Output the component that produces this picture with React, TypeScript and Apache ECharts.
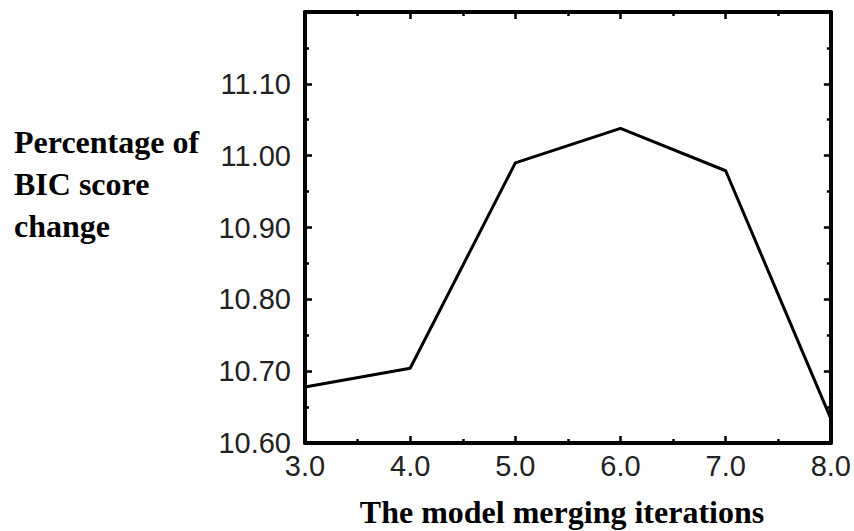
import React, { useEffect, useRef } from "react";
import * as echarts from "echarts";

const iterations: number[] = [3.0, 4.0, 5.0, 6.0, 7.0, 8.0];
const bicChange: number[] = [10.678, 10.704, 10.99, 11.038, 10.979, 10.634];
const yNameLines: string[] = ["Percentage of", "BIC score", "change"];
const xName = "The model merging iterations";

export default function App() {
  const ref = useRef<HTMLDivElement>(null);
  useEffect(() => {
    if (!ref.current) return;
    const chart = echarts.init(ref.current, null, { renderer: "svg" });
    const axisLine = { show: true, lineStyle: { color: "#000", width: 4 } };
    const axisTick = { show: true, inside: true, length: 7, lineStyle: { color: "#000", width: 2.5 } };
    const minorTick = { show: true, splitNumber: 2, length: 4, lineStyle: { color: "#000", width: 2.5 } };
    const labelStyle = { color: "#222", fontFamily: "Liberation Sans", fontSize: 29 };
    const nameFont = { fontFamily: "Liberation Serif", fontWeight: "bold", fontSize: 32, fill: "#000" };
    chart.setOption({
      animation: false,
      backgroundColor: "#fff",
      grid: { left: 305, right: 19, top: 12, bottom: 88, containLabel: false },
      xAxis: [
        {
          type: "value",
          position: "bottom",
          min: 3,
          max: 8,
          interval: 1,
          axisLine,
          axisTick,
          minorTick,
          splitLine: { show: false },
          axisLabel: { ...labelStyle, margin: 8, formatter: (v: number) => v.toFixed(1) },
        },
        {
          type: "value",
          position: "top",
          min: 3,
          max: 8,
          interval: 1,
          axisLine,
          axisTick,
          minorTick,
          splitLine: { show: false },
          axisLabel: { show: false },
        },
      ],
      yAxis: [
        {
          type: "value",
          position: "left",
          min: 10.6,
          max: 11.2,
          interval: 0.1,
          axisLine,
          axisTick,
          minorTick,
          splitLine: { show: false },
          axisLabel: {
            ...labelStyle,
            margin: 14,
            formatter: (v: number) => (v > 11.15 ? "" : v.toFixed(2)),
          },
        },
        {
          type: "value",
          position: "right",
          min: 10.6,
          max: 11.2,
          interval: 0.1,
          axisLine,
          axisTick,
          minorTick,
          splitLine: { show: false },
          axisLabel: { show: false },
        },
      ],
      series: [
        {
          type: "line",
          xAxisIndex: 0,
          yAxisIndex: 0,
          data: iterations.map((x, i) => [x, bicChange[i]]),
          showSymbol: false,
          symbol: "none",
          lineStyle: { color: "#000", width: 3 },
          clip: false,
        },
      ],
      graphic: [
        ...yNameLines.map((t, i) => ({
          type: "text",
          left: 14,
          top: 126 + i * 42,
          style: { text: t, ...nameFont },
        })),
        {
          type: "text",
          x: 562,
          y: 496,
          style: { text: xName, ...nameFont, textAlign: "center" },
        },
      ],
    });
    return () => chart.dispose();
  }, []);
  return <div ref={ref} style={{ width: 854, height: 531, position: "absolute", left: 0, top: 0 }} />;
}
